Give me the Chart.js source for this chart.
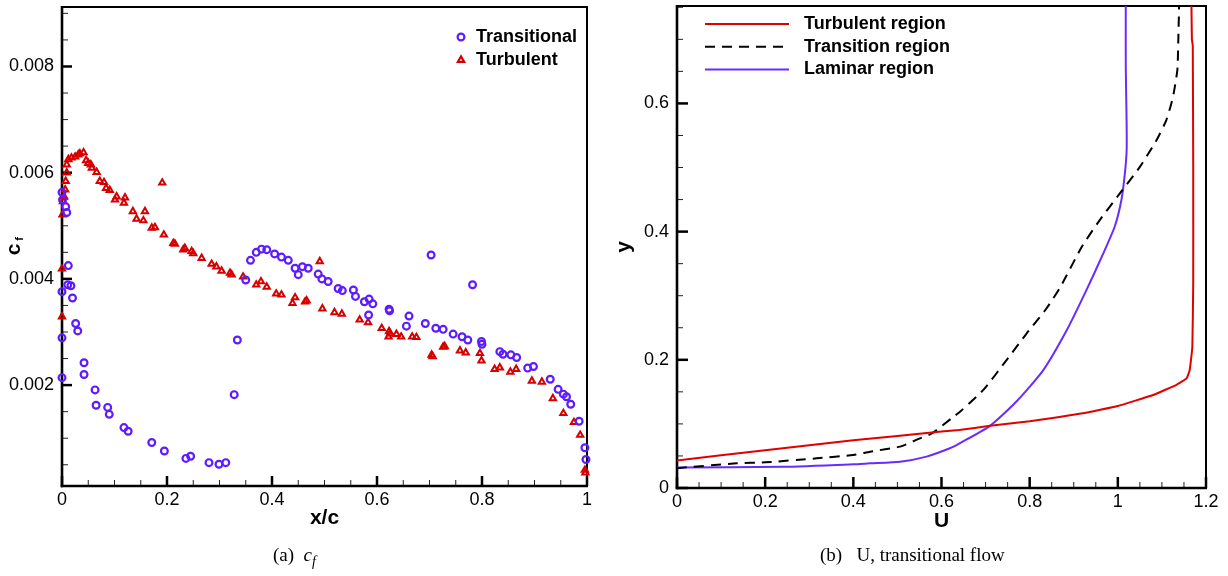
<!DOCTYPE html>
<html><head><meta charset="utf-8">
<script src="https://cdn.jsdelivr.net/npm/chart.js@4.4.1/dist/chart.umd.min.js"></script>
<style>
html,body{margin:0;padding:0;background:#fff;}
#wrap{position:relative;width:1228px;height:576px;overflow:hidden;background:#fff;}
canvas{position:absolute;top:0;}
#cA{left:0;} #cB{left:600px;}
.cap{position:absolute;font-family:"Liberation Serif","Times New Roman",serif;font-size:19px;line-height:24px;color:#000;white-space:nowrap;}
.cap i{font-style:italic;}
.cap .sub{position:relative;top:5px;font-size:14px;font-style:italic;}
</style></head><body>
<div id="wrap">
<canvas id="cA" width="600" height="576"></canvas>
<canvas id="cB" width="628" height="576"></canvas>
<div class="cap" style="left:273px;top:543px;">(a)&nbsp;&nbsp;<i>c</i><span class="sub">f</span></div>
<div class="cap" style="left:820px;top:543px;">(b)&nbsp;&nbsp;&nbsp;U, transitional flow</div>
</div>
<script>
// ---------- (a) skin friction data ----------
const transX = [0,0.001,0.007,0.009,0.012,0.011,0.017,0,0.020,0.026,0.030,0,0.042,0.042,0,0.063,0.065,0.087,0.090,0.118,0.126,0.171,0.195,0.236,0.245,0.280,0.299,0.312,0.328,0.334,0.350,0.359,0.370,0.380,0.390,0.405,0.418,0.431,0.444,0.450,0.458,0.469,0.488,0.495,0.507,0.526,0.534,0.555,0.559,0.576,0.584,0.585,0.592,0.623,0.624,0.656,0.661,0.692,0.703,0.712,0.726,0.745,0.762,0.773,0.782,0.799,0.800,0.834,0.840,0.855,0.866,0.887,0.898,0.930,0.945,0.955,0.961,0.969,0.985,0.996,0.998];
const transY = [0.00563,0.00549,0.00536,0.00525,0.00425,0.00389,0.00387,0.00376,0.00364,0.00316,0.00302,0.00289,0.00242,0.00220,0.00214,0.00191,0.00162,0.00158,0.00145,0.00120,0.00113,0.00092,0.00076,0.00062,0.00066,0.00054,0.00051,0.00054,0.00182,0.00285,0.00398,0.00435,0.00450,0.00456,0.00455,0.00447,0.00441,0.00435,0.00420,0.00408,0.00423,0.00420,0.00409,0.00400,0.00395,0.00382,0.00378,0.00379,0.00367,0.00357,0.00332,0.00362,0.00353,0.00343,0.00340,0.00311,0.00330,0.00316,0.00445,0.00307,0.00305,0.00296,0.00291,0.00285,0.00389,0.00282,0.00277,0.00263,0.00258,0.00257,0.00252,0.00232,0.00235,0.00211,0.00192,0.00183,0.00178,0.00164,0.00132,0.00082,0.00060];
const turbX = [0,0,0.001,0.002,0.004,0.006,0.007,0.009,0.009,0.012,0.018,0.025,0.031,0.034,0.041,0.046,0.050,0.055,0.057,0.066,0.072,0.080,0.084,0.091,0.101,0.104,0.118,0.120,0.135,0.142,0.155,0.158,0.171,0.177,0.191,0.194,0.212,0.215,0.231,0.234,0.247,0.250,0.266,0.285,0.294,0.304,0.320,0.323,0.345,0.370,0.379,0.390,0.408,0.418,0.439,0.444,0.463,0.466,0.491,0.496,0.519,0.533,0.567,0.583,0.609,0.622,0.623,0.625,0.637,0.646,0.667,0.675,0.704,0.706,0.726,0.729,0.758,0.769,0.796,0.799,0.824,0.834,0.854,0.865,0.895,0.914,0.935,0.955,0.975,0.987,0.996,0.997];
const turbY = [0.00419,0.00329,0.00521,0.00546,0.00555,0.00568,0.00584,0.00600,0.00615,0.00625,0.00628,0.00630,0.00634,0.00636,0.00638,0.00623,0.00618,0.00615,0.00609,0.00601,0.00584,0.00582,0.00571,0.00567,0.00549,0.00555,0.00543,0.00553,0.00527,0.00513,0.00510,0.00527,0.00496,0.00497,0.00581,0.00483,0.00467,0.00466,0.00455,0.00458,0.00452,0.00448,0.00439,0.00428,0.00423,0.00415,0.00411,0.00408,0.00404,0.00389,0.00395,0.00385,0.00372,0.00370,0.00354,0.00365,0.00357,0.00359,0.00433,0.00344,0.00337,0.00334,0.00323,0.00318,0.00307,0.00291,0.00301,0.00297,0.00296,0.00291,0.00291,0.00290,0.00257,0.00254,0.00272,0.00273,0.00265,0.00261,0.00260,0.00246,0.00230,0.00233,0.00225,0.00230,0.00208,0.00206,0.00175,0.00147,0.00130,0.00106,0.00040,0.00035];
const cfXTicks = [0,0.2,0.4,0.6,0.8,1];
const cfXLabels = ["0","0.2","0.4","0.6","0.8","1"];
const cfYTicks = [0.002,0.004,0.006,0.008];
const cfYLabels = ["0.002","0.004","0.006","0.008"];

// ---------- (b) velocity profiles ----------
const uTurb = [0,0.2,0.4,0.6,0.64,0.71,0.8,0.92,1.0,1.08,1.133,1.156,1.163,1.169,1.171,1.171,1.170,1.168,1.167];
const yTurb = [0.043,0.059,0.0745,0.088,0.0905,0.097,0.104,0.1165,0.128,0.145,0.161,0.171,0.184,0.22,0.32,0.5,0.69,0.70,0.752];
const uTrans = [0,0.135,0.2,0.317,0.4,0.438,0.506,0.551,0.578,0.627,0.642,0.695,0.748,0.793,0.838,0.870,0.918,0.959,1.005,1.05,1.088,1.11,1.125,1.135,1.137,1.139];
const yTrans = [0.031,0.0385,0.040,0.0463,0.0515,0.0567,0.0645,0.0775,0.085,0.111,0.119,0.153,0.2,0.241,0.28,0.314,0.376,0.418,0.46,0.501,0.543,0.574,0.61,0.652,0.694,0.752];
const uLam = [0,0.241,0.4,0.438,0.506,0.566,0.619,0.642,0.71,0.77,0.831,0.884,0.929,0.967,0.993,1.008,1.016,1.02,1.02,1.018,1.018];
const yLam = [0.032,0.033,0.037,0.0385,0.041,0.049,0.062,0.07,0.097,0.135,0.184,0.246,0.309,0.366,0.408,0.449,0.491,0.527,0.566,0.657,0.752];
const uXTicks = [0,0.2,0.4,0.6,0.8,1,1.2];
const uXLabels = ["0","0.2","0.4","0.6","0.8","1","1.2"];
const uYTicks = [0,0.2,0.4,0.6];
const uYLabels = ["0","0.2","0.4","0.6"];

const PURPLE = '#5d1cff';
const RED = '#d60000';
const TICK_FONT = {family:'"Liberation Sans", Arial, sans-serif', size:18};
const BOLD = 'bold 18px "Liberation Sans", Arial, sans-serif';
const TITLE = 'bold 21px "Liberation Sans", Arial, sans-serif';

const pts = (xs, ys) => xs.map((x, i) => ({x, y: ys[i]}));

const frameTicks = {
  id: 'frameTicks',
  beforeDatasetsDraw(chart, args, o) {
    const {ctx, chartArea: a} = chart;
    const sx = chart.scales.x, sy = chart.scales.y;
    ctx.save();
    ctx.lineCap = 'butt';
    const seg = (x1,y1,x2,y2) => { ctx.beginPath(); ctx.moveTo(x1,y1); ctx.lineTo(x2,y2); ctx.stroke(); };
    ctx.strokeStyle = '#222'; ctx.lineWidth = 1;
    for (let v = o.xMinor[0]; v <= o.xMinor[1] + 1e-9; v += o.xMinor[2]) {
      const p = sx.getPixelForValue(v); seg(p, a.bottom, p, a.bottom - o.minorLen);
    }
    for (let v = o.yMinor[0]; v <= o.yMinor[1] + 1e-12; v += o.yMinor[2]) {
      const p = sy.getPixelForValue(v); seg(a.left, p, a.left + o.minorLen, p);
    }
    ctx.strokeStyle = '#000'; ctx.lineWidth = 2.5;
    sx.ticks.forEach(t => { const p = sx.getPixelForValue(t.value); seg(p, a.bottom, p, a.bottom - o.majorLen); });
    sy.ticks.forEach(t => { const p = sy.getPixelForValue(t.value); seg(a.left, p, a.left + o.majorLen, p); });
    ctx.lineWidth = 2;
    ctx.strokeRect(a.left, a.top, a.right - a.left, a.bottom - a.top);
    ctx.lineWidth = 2.6;
    seg(a.left, a.top - 1, a.left, a.bottom + 1.3);
    seg(a.left - 1.3, a.bottom, a.right + 1, a.bottom);
    ctx.restore();
  },
  afterDraw(chart, args, o) {
    const {ctx, chartArea: a} = chart;
    ctx.save();
    ctx.fillStyle = '#000';
    ctx.font = TITLE; ctx.textAlign = 'center'; ctx.textBaseline = 'middle';
    ctx.fillText(o.xTitle, (a.left + a.right) / 2, o.xTitleY);
    ctx.translate(o.yTitleX, (a.top + a.bottom) / 2 + o.yTitleShift);
    ctx.rotate(-Math.PI / 2);
    ctx.textAlign = 'center';
    ctx.fillText(o.yTitle, 0, 0);
    if (o.ySub) {
      const w = ctx.measureText(o.yTitle).width;
      ctx.font = 'bold 11px "Liberation Sans", Arial, sans-serif';
      ctx.textAlign = 'left';
      ctx.fillText(o.ySub, w / 2 + 3, 6);
    }
    ctx.restore();
    ctx.save();
    const L = o.legend;
    chart.data.datasets.forEach((ds, i) => {
      const y = L.y0 + i * L.dy;
      if (L.type === 'marker') {
        ctx.strokeStyle = ds.borderColor; ctx.fillStyle = 'rgba(0,0,0,0)';
        Chart.helpers.drawPoint(ctx, {pointStyle: ds.pointStyle, radius: ds.pointRadius, borderWidth: ds.borderWidth, rotation: 0}, L.x, y);
      } else {
        ctx.strokeStyle = ds.borderColor; ctx.lineWidth = ds.borderWidth;
        ctx.setLineDash(ds.borderDash || []);
        ctx.beginPath(); ctx.moveTo(L.x, y); ctx.lineTo(L.x2, y); ctx.stroke();
        ctx.setLineDash([]);
      }
      ctx.fillStyle = '#000'; ctx.font = BOLD; ctx.textAlign = 'left'; ctx.textBaseline = 'middle';
      ctx.fillText(ds.label, L.tx, y);
    });
    ctx.restore();
  }
};

function axis(min, max, ticks, labels, pad, fixW, fixH) {
  return {
    type: 'linear', min, max,
    grid: {display: false, drawTicks: false},
    border: {display: false},
    afterBuildTicks: s => { s.ticks = ticks.map(v => ({value: v})); },
    afterFit: s => {
      if (fixW != null) s.width = fixW;
      if (fixH != null) s.height = fixH;
      s.paddingTop = 0; s.paddingBottom = 0; s.paddingLeft = 0; s.paddingRight = 0;
    },
    ticks: {autoSkip: false, maxRotation: 0, minRotation: 0, padding: pad, color: '#000', font: TICK_FONT,
      callback: (v, i) => labels[i]}
  };
}

new Chart(document.getElementById('cA'), {
  type: 'scatter',
  data: {datasets: [
    {label: 'Transitional', data: pts(transX, transY), pointStyle: 'circle', pointRadius: 3.4, borderWidth: 2.2,
     borderColor: PURPLE, backgroundColor: 'rgba(0,0,0,0)', clip: false},
    {label: 'Turbulent', data: pts(turbX, turbY), pointStyle: 'triangle', pointRadius: 3.6, borderWidth: 2,
     borderColor: RED, backgroundColor: 'rgba(0,0,0,0)', clip: false}
  ]},
  options: {
    responsive: false, animation: false,
    layout: {autoPadding: false, padding: {left: 0, top: 7, right: 13, bottom: 0}},
    scales: {
      x: axis(0, 1, cfXTicks, cfXLabels, 3, null, 90),
      y: axis(0.0001, 0.00912, cfYTicks, cfYLabels, 8, 62, null)
    },
    plugins: {
      legend: {display: false}, tooltip: {enabled: false},
      frameTicks: {xMinor: [0, 1, 0.05], yMinor: [0.0005, 0.009, 0.0005], minorLen: 6, majorLen: 10,
        xTitle: 'x/c', xTitleY: 518, yTitle: 'c', ySub: 'f', yTitleX: 14, yTitleShift: 3,
        legend: {type: 'marker', x: 461, y0: 37, dy: 23, tx: 476}}
    }
  },
  plugins: [frameTicks]
});

new Chart(document.getElementById('cB'), {
  type: 'scatter',
  data: {datasets: [
    {label: 'Turbulent region', data: pts(uTurb, yTurb), showLine: true, pointRadius: 0, borderWidth: 2,
     borderColor: '#e00000', tension: 0.1},
    {label: 'Transition region', data: pts(uTrans, yTrans), showLine: true, pointRadius: 0, borderWidth: 2,
     borderColor: '#000', borderDash: [10, 7], tension: 0.2},
    {label: 'Laminar region', data: pts(uLam, yLam), showLine: true, pointRadius: 0, borderWidth: 2,
     borderColor: '#6a2bff', tension: 0.2}
  ]},
  options: {
    responsive: false, animation: false,
    layout: {autoPadding: false, padding: {left: 0, top: 6, right: 22, bottom: 0}},
    scales: {
      x: axis(0, 1.2, uXTicks, uXLabels, 3, null, 88),
      y: axis(0, 0.752, uYTicks, uYLabels, 8, 77, null)
    },
    plugins: {
      legend: {display: false}, tooltip: {enabled: false},
      frameTicks: {xMinor: [0, 1.2, 0.05], yMinor: [0, 0.75, 0.05], minorLen: 6, majorLen: 11,
        xTitle: 'U', xTitleY: 521, yTitle: 'y', ySub: null, yTitleX: 24.5, yTitleShift: 0,
        legend: {type: 'line', x: 105, x2: 189, y0: 24, dy: 22.7, tx: 204}}
    }
  },
  plugins: [frameTicks]
});
</script>
</body></html>
